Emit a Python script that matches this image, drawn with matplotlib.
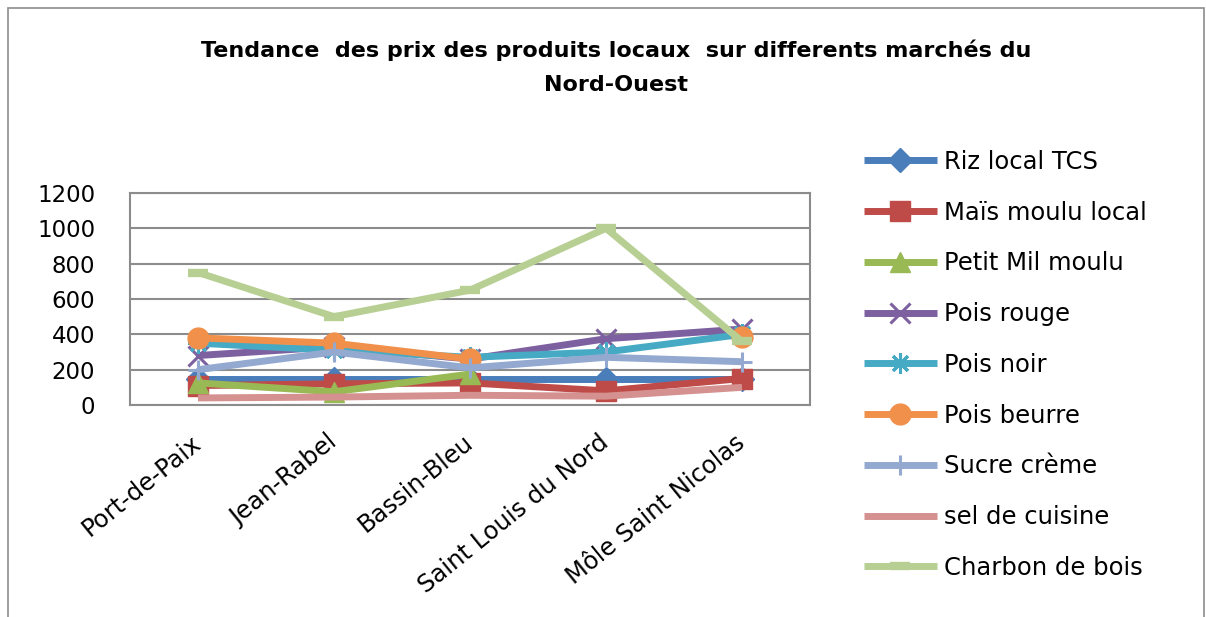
import numpy as np
import matplotlib
matplotlib.use("Agg")
import matplotlib.pyplot as plt
from matplotlib.patches import Rectangle

markets = ["Port-de-Paix", "Jean-Rabel", "Bassin-Bleu", "Saint Louis du Nord", "Môle Saint Nicolas"]
nan = np.nan
riz = [150, 150, 150, 150, 150]
mais = [110, 120, 125, 80, 150]
mil = [125, 75, 175, nan, nan]
pois_rouge = [280, 330, 260, 375, 430]
pois_noir = [350, 310, 270, 300, 400]
pois_beurre = [380, 350, 260, nan, 385]
sucre = [200, 300, 210, 270, 245]
sel = [40, 45, 55, 50, 100]
charbon = [750, 500, 650, 1000, 360]

series = [
    ("Riz local TCS", riz, "#4A7EBB", "D", 12),
    ("Maïs moulu local", mais, "#BE4B48", "s", 14),
    ("Petit Mil moulu", mil, "#98B954", "^", 14),
    ("Pois rouge", pois_rouge, "#7D60A0", "x", 14),
    ("Pois noir", pois_noir, "#46AAC5", (8, 2, 0), 15),
    ("Pois beurre", pois_beurre, "#F0904A", "o", 15),
    ("Sucre crème", sucre, "#93A9CF", "+", 15),
    ("sel de cuisine", sel, "#D49190", None, 0),
    ("Charbon de bois", charbon, "#B7CF92", "_", 15),
]

FONT = "DejaVu Sans"
fig = plt.figure(figsize=(12.06, 6.17), dpi=100)
W, H = 1206, 617
fig.patches.append(Rectangle((8 / W, -0.01), (1204 - 8) / W, (617 - 8) / 617 + 0.01,
                             transform=fig.transFigure, fill=False, ec="#8c8c8c", lw=1.2))

ax = fig.add_axes([130 / W, 1 - 405 / H, (810 - 130) / W, (405 - 193) / H])
x = np.arange(len(markets))
for name, vals, col, mk, ms in series:
    kw = dict(color=col, lw=5, label=name, solid_capstyle="butt")
    if mk is not None:
        mew = 2.2 if (mk in ("x", "+") or isinstance(mk, tuple)) else (6 if mk == "_" else 1)
        kw.update(marker=mk, markersize=ms, markeredgewidth=mew, markeredgecolor=col)
    ax.plot(x, vals, **kw)

ax.set_xlim(-0.5, len(markets) - 0.5)
ax.set_ylim(0, 1200)
ax.set_yticks(range(0, 1201, 200))
ax.yaxis.grid(True, color="#8c8c8c", lw=1.5)
ax.set_axisbelow(True)
for s in ["left", "right", "top", "bottom"]:
    ax.spines[s].set_color("#8c8c8c")
    ax.spines[s].set_linewidth(1.5)
ax.tick_params(axis="both", length=0, labelsize=16.5)
ax.tick_params(axis="y", pad=25)
ax.tick_params(axis="x", pad=25)
ax.set_xticks(x)
ax.set_xticklabels(markets, rotation=39, ha="right", va="center", rotation_mode="anchor", fontsize=17.5)
for lab in ax.get_yticklabels() + ax.get_xticklabels():
    lab.set_fontfamily(FONT)

cx = 0.5 * (163 + 1070) / W
fig.text(cx, 1 - 50 / H, "Tendance  des prix des produits locaux  sur differents marchés du",
         ha="center", va="center", fontsize=16, fontweight="bold", family=FONT)
fig.text(cx, 1 - 85 / H, "Nord-Ouest",
         ha="center", va="center", fontsize=16, fontweight="bold", family=FONT)

leg = fig.legend(loc="upper left", bbox_to_anchor=(842 / W, 1 - 128 / H), frameon=False,
                 prop={"family": FONT, "size": 17.5}, handlelength=3.0, handletextpad=0.3,
                 labelspacing=1.1)

fig.savefig("out.png", dpi=100)
